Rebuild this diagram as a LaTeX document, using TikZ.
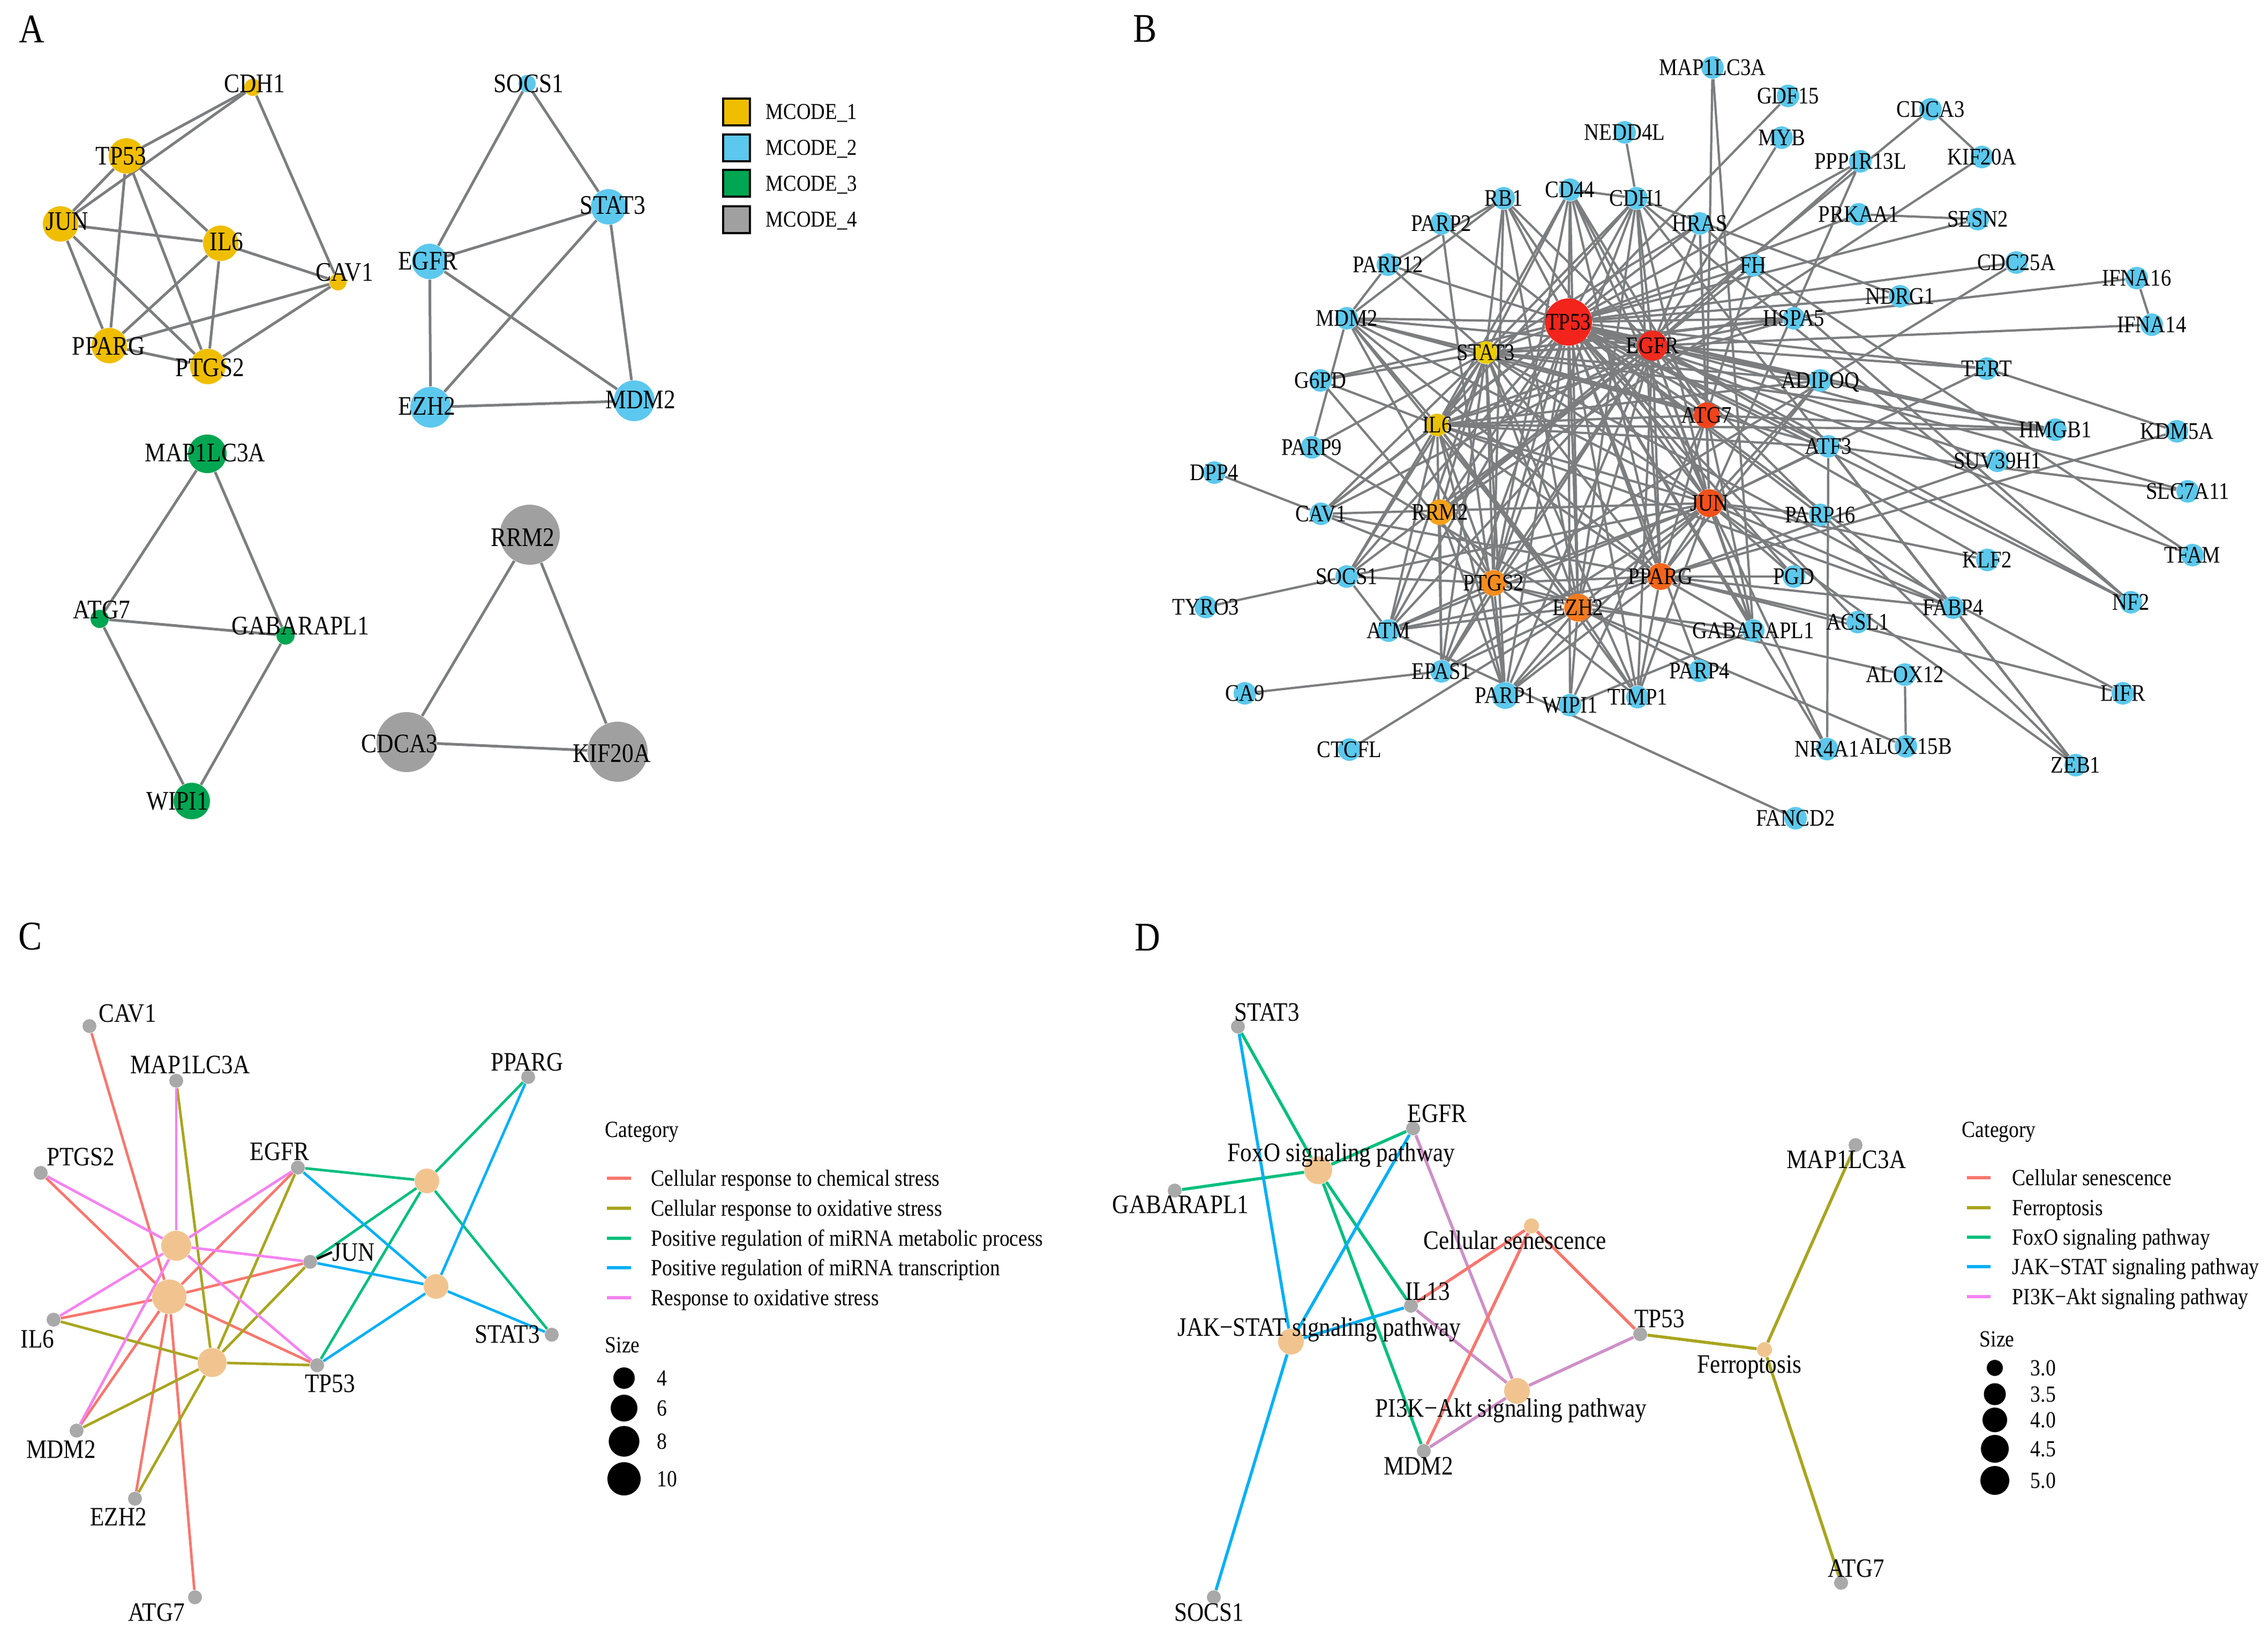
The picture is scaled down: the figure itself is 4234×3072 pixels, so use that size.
\documentclass[tikz,border=0pt]{standalone}
\usepackage{fontspec}
\setmainfont[FakeStretch=0.87]{Liberation Serif}
\pgfdeclarelayer{paper}
\pgfdeclarelayer{edges}
\pgfsetlayers{paper,edges,main}
\definecolor{mcA}{HTML}{F0BE00}
\definecolor{mcB}{HTML}{5CC8EE}
\definecolor{mcC}{HTML}{00A651}
\definecolor{mcD}{HTML}{A0A0A0}
\definecolor{egray}{HTML}{7C7D7F}
\definecolor{bblue}{HTML}{5BC8EC}
\definecolor{ngray}{HTML}{A9A9A9}
\definecolor{peach}{HTML}{F1C48F}
\definecolor{csal}{HTML}{F8766D}
\definecolor{colive}{HTML}{A8A51E}
\definecolor{cteal}{HTML}{00BF7D}
\definecolor{ccyan}{HTML}{00B0F6}
\definecolor{cpink}{HTML}{F582F0}
\definecolor{dmauve}{HTML}{CF8FC8}
\definecolor{hTP}{HTML}{F3241C}
\definecolor{hEG}{HTML}{EF2B1F}
\definecolor{hST}{HTML}{ECCB00}
\definecolor{hIL}{HTML}{E9C100}
\definecolor{hAT}{HTML}{F1431C}
\definecolor{hJU}{HTML}{F2501A}
\definecolor{hRR}{HTML}{F5A11B}
\definecolor{hPT}{HTML}{F58C1E}
\definecolor{hPP}{HTML}{F2661B}
\definecolor{hEZ}{HTML}{F47A1F}
\begin{document}
\begin{tikzpicture}[x=0.25pt,y=-0.25pt,
  lbl/.style={inner sep=0pt, text depth=0pt},
  alab/.style={lbl, font=\fontsize{12.5}{14}\selectfont, text height=8.25pt},
  aleg/.style={lbl, anchor=west, font=\fontsize{10.6}{12}\selectfont, text height=7pt},
  blab/.style={lbl, font=\fontsize{11.1}{13}\selectfont, text height=7.3pt},
  cdlab/.style={lbl, font=\fontsize{12.4}{14}\selectfont, text height=8.2pt},
  cdleg/.style={lbl, anchor=west, font=\fontsize{10.8}{12}\selectfont, text height=7.1pt},
  plet/.style={lbl, font=\fontsize{19}{22}\selectfont, text height=12.5pt},
  dot/.style={circle, inner sep=0pt, draw=none},
  aedge/.style={draw=egray, line width=1.25pt},
  bedge/.style={draw=egray, line width=1.05pt},
  cedge/.style={line width=1.2pt},
  dedge/.style={line width=1.4pt},
  legline/.style={line width=1.3pt}
]
\begin{pgfonlayer}{paper}
\fill[white] (0,0) rectangle (4234,3072);
\end{pgfonlayer}
\useasboundingbox (0,0) rectangle (4234,3072);

% ---------------- panel letters
\node[plet] (pA) at (59,55) {A};
\node[plet] (pB) at (2138,54) {B};
\node[plet] (pC) at (57,1747) {C};
\node[plet] (pD) at (2142,1749) {D};

% ---------------- PANEL A
\node[dot, fill=mcA, minimum size=8pt] (A-CDH1) at (472,163) {};
\node[dot, fill=mcA, minimum size=16.5pt] (A-TP53) at (236,291) {};
\node[dot, fill=mcA, minimum size=16.5pt] (A-JUN) at (113,418) {};
\node[dot, fill=mcA, minimum size=16.5pt] (A-IL6) at (412,454) {};
\node[dot, fill=mcA, minimum size=8pt] (A-CAV1) at (631,526) {};
\node[dot, fill=mcA, minimum size=16.5pt] (A-PPARG) at (204,645) {};
\node[dot, fill=mcA, minimum size=16.5pt] (A-PTGS2) at (388,684) {};
\node[dot, fill=mcB, minimum size=8pt] (A-SOCS1) at (984,156) {};
\node[dot, fill=mcB, minimum size=16.5pt] (A-STAT3) at (1136,386) {};
\node[dot, fill=mcB, minimum size=16.5pt] (A-EGFR) at (802,488) {};
\node[dot, fill=mcB, minimum size=19pt] (A-EZH2) at (804,760) {};
\node[dot, fill=mcB, minimum size=19pt] (A-MDM2) at (1184,748) {};
\node[dot, fill=mcC, minimum size=18pt] (A-MAP1LC3A) at (387,847) {};
\node[dot, fill=mcC, minimum size=8.5pt] (A-ATG7) at (186,1155) {};
\node[dot, fill=mcC, minimum size=8.5pt] (A-GABARAPL1) at (533,1186) {};
\node[dot, fill=mcC, minimum size=17pt] (A-WIPI1) at (358,1495) {};
\node[dot, fill=mcD, minimum size=28pt] (A-RRM2) at (989,998) {};
\node[dot, fill=mcD, minimum size=28pt] (A-CDCA3) at (759,1385) {};
\node[dot, fill=mcD, minimum size=28pt] (A-KIF20A) at (1153,1403) {};
\begin{pgfonlayer}{edges}
\foreach \ea/\eb in {CDH1/TP53, CDH1/JUN, CDH1/CAV1, TP53/JUN, TP53/PPARG, TP53/PTGS2, TP53/IL6,
  JUN/IL6, JUN/PPARG, JUN/PTGS2, IL6/CAV1, IL6/PPARG, IL6/PTGS2, CAV1/PPARG, CAV1/PTGS2, PPARG/PTGS2,
  SOCS1/EGFR, SOCS1/STAT3, STAT3/EGFR, STAT3/EZH2, STAT3/MDM2, EGFR/EZH2, EGFR/MDM2, EZH2/MDM2,
  MAP1LC3A/ATG7, MAP1LC3A/GABARAPL1, ATG7/GABARAPL1, ATG7/WIPI1, GABARAPL1/WIPI1,
  RRM2/CDCA3, RRM2/KIF20A, CDCA3/KIF20A}
  \draw[aedge] (A-\ea) -- (A-\eb);
\end{pgfonlayer}
\node[alab] (A-CDH1-l) at (475,156) {CDH1};
\node[alab] (A-TP53-l) at (226,291) {TP53};
\node[alab] (A-JUN-l) at (125,413) {JUN};
\node[alab] (A-IL6-l) at (423,451) {IL6};
\node[alab] (A-CAV1-l) at (643,508) {CAV1};
\node[alab] (A-PPARG-l) at (203,646) {PPARG};
\node[alab] (A-PTGS2-l) at (392,686) {PTGS2};
\node[alab] (A-SOCS1-l) at (987,156) {SOCS1};
\node[alab] (A-STAT3-l) at (1144,383) {STAT3};
\node[alab] (A-EGFR-l) at (799,487) {EGFR};
\node[alab] (A-EZH2-l) at (797,758) {EZH2};
\node[alab] (A-MDM2-l) at (1196,746) {MDM2};
\node[alab] (A-MAP1LC3A-l) at (383,845) {MAP1LC3A};
\node[alab] (A-ATG7-l) at (190,1138) {ATG7};
\node[alab] (A-GABARAPL1-l) at (561,1168) {GABARAPL1};
\node[alab] (A-WIPI1-l) at (331,1495) {WIPI1};
\node[alab] (A-RRM2-l) at (976,1003) {RRM2};
\node[alab] (A-CDCA3-l) at (746,1388) {CDCA3};
\node[alab] (A-KIF20A-l) at (1142,1406) {KIF20A};
\foreach \i/\cc/\y in {1/mcA/209, 2/mcB/276, 3/mcC/342, 4/mcD/410} {
  \node[rectangle, draw=black, line width=0.9pt, fill=\cc, minimum size=12.5pt, inner sep=0pt] (A-leg\i) at (1375,\y) {};
  \node[aleg] (A-legt\i) at (1429,\y) {MCODE\_\i};
}

% ---------------- PANEL B
\foreach \n/\x/\y in {MAP1LC3A/3197/126, NEDD4L/3033/247, GDF15/3338/179, MYB/3326/257, CDCA3/3604/204,
  PPP1R13L/3473/301, KIF20A/3700/293, CD44/2931/354, CDH1/3055/370, RB1/2807/370, PARP2/2691/417,
  HRAS/3173/417, PRKAA1/3470/400, SESN2/3692/409, PARP12/2591/494, FH/3273/495, CDC25A/3764/490,
  IFNA16/3989/519, NDRG1/3547/553, MDM2/2514/594, HSPA5/3349/594, IFNA14/4017/606, TERT/3709/688,
  G6PD/2465/710, ADIPOQ/3398/710, HMGB1/3837/802, KDM5A/4064/805, PARP9/2449/835, ATF3/3413/833,
  SUV39H1/3729/860, DPP4/2267/882, SLC7A11/4084/917, CAV1/2466/959, PARP16/3398/961, TFAM/4093/1036,
  KLF2/3710/1045, SOCS1/2514/1076, PGD/3349/1076, NF2/3978/1124, TYRO3/2251/1133, FABP4/3646/1134,
  ACSL1/3468/1161, ATM/2592/1177, GABARAPL1/3273/1177, EPAS1/2691/1253, PARP4/3173/1252,
  ALOX12/3556/1259, CA9/2324/1294, LIFR/3963/1294, TIMP1/3057/1301, WIPI1/2931/1316,
  ALOX15B/3558/1393, NR4A1/3411/1398, CTCFL/2519/1399, ZEB1/3875/1428, FANCD2/3352/1527}
  \node[dot, fill=bblue, minimum size=10.5pt] (B-\n) at (\x,\y) {};
\node[dot, fill=bblue, minimum size=12.5pt] (B-PARP1) at (2810,1298) {};
\node[dot, fill=hTP, minimum size=22pt] (B-TP53) at (2928,601) {};
\node[dot, fill=hEG, minimum size=14pt] (B-EGFR) at (3085,645) {};
\node[dot, fill=hST, minimum size=10.5pt] (B-STAT3) at (2774,658) {};
\node[dot, fill=hIL, minimum size=10.5pt] (B-IL6) at (2683,793) {};
\node[dot, fill=hAT, minimum size=12pt] (B-ATG7) at (3186,775) {};
\node[dot, fill=hJU, minimum size=13pt] (B-JUN) at (3191,939) {};
\node[dot, fill=hRR, minimum size=12pt] (B-RRM2) at (2688,956) {};
\node[dot, fill=hPT, minimum size=12pt] (B-PTGS2) at (2788,1088) {};
\node[dot, fill=hPP, minimum size=12.5pt] (B-PPARG) at (3100,1076) {};
\node[dot, fill=hEZ, minimum size=13pt] (B-EZH2) at (2946,1134) {};
\begin{pgfonlayer}{edges}
\foreach \ea/\eb in {TP53/EGFR, TP53/STAT3, TP53/IL6, TP53/ATG7, TP53/JUN, TP53/PPARG, TP53/EZH2, TP53/PTGS2, TP53/RRM2,
  EGFR/STAT3, EGFR/IL6, EGFR/ATG7, EGFR/JUN, EGFR/PPARG, EGFR/EZH2, EGFR/PTGS2, EGFR/RRM2,
  STAT3/IL6, STAT3/ATG7, STAT3/JUN, STAT3/PPARG, STAT3/EZH2, STAT3/PTGS2, STAT3/RRM2,
  IL6/ATG7, IL6/JUN, IL6/PPARG, IL6/EZH2, IL6/PTGS2, ATG7/JUN, ATG7/PPARG,
  JUN/PPARG, JUN/EZH2, JUN/PTGS2, PPARG/EZH2, PPARG/PTGS2, EZH2/PTGS2,
  TP53/MDM2, TP53/CAV1, TP53/SOCS1, TP53/ATM, TP53/EPAS1, TP53/PARP1, TP53/WIPI1, TP53/TIMP1, TP53/PARP4,
  TP53/GABARAPL1, TP53/PGD, TP53/PARP16, TP53/ATF3, TP53/ADIPOQ, TP53/HSPA5, TP53/FH, TP53/HRAS, TP53/CDH1,
  TP53/CD44, TP53/RB1, TP53/PARP2, TP53/PARP12, TP53/G6PD, TP53/NDRG1, TP53/CDC25A, TP53/SESN2, TP53/PRKAA1,
  TP53/PPP1R13L, TP53/GDF15, TP53/TERT, TP53/HMGB1, TP53/SLC7A11, TP53/TFAM, TP53/NF2, TP53/SUV39H1,
  TP53/NR4A1, TP53/ACSL1, TP53/FABP4, TP53/KLF2,
  EGFR/MDM2, EGFR/CAV1, EGFR/SOCS1, EGFR/ATM, EGFR/EPAS1, EGFR/PARP1, EGFR/TIMP1, EGFR/CD44, EGFR/CDH1,
  EGFR/HRAS, EGFR/HSPA5, EGFR/ADIPOQ, EGFR/ATF3, EGFR/MYB, EGFR/PPP1R13L, EGFR/TERT, EGFR/NF2, EGFR/ZEB1,
  EGFR/RB1, EGFR/GABARAPL1, EGFR/FH, EGFR/HMGB1,
  STAT3/MDM2, STAT3/SOCS1, STAT3/CAV1, STAT3/CD44, STAT3/CDH1, STAT3/HRAS, STAT3/TIMP1, STAT3/EPAS1,
  STAT3/ATF3, STAT3/IFNA16, STAT3/IFNA14, STAT3/LIFR, STAT3/HMGB1, STAT3/G6PD, STAT3/RB1, STAT3/PARP9,
  STAT3/ATM, STAT3/PARP1, STAT3/ADIPOQ, STAT3/HSPA5, STAT3/PARP12,
  IL6/MDM2, IL6/CAV1, IL6/SOCS1, IL6/EPAS1, IL6/TIMP1, IL6/HMGB1, IL6/ATF3, IL6/ADIPOQ, IL6/PARP1,
  IL6/CD44, IL6/CDH1, IL6/HSPA5, IL6/ATM, IL6/FABP4, IL6/G6PD,
  ATG7/MAP1LC3A, ATG7/GABARAPL1, ATG7/WIPI1, ATG7/HMGB1, ATG7/MDM2, ATG7/HRAS, ATG7/FH, ATG7/CD44,
  JUN/ATF3, JUN/PARP16, JUN/KLF2, JUN/NR4A1, JUN/CAV1, JUN/SOCS1, JUN/EPAS1, JUN/TIMP1, JUN/PARP1,
  JUN/HRAS, JUN/CDH1, JUN/CD44, JUN/MDM2, JUN/ATM, JUN/FABP4, JUN/PGD, JUN/GABARAPL1, JUN/RB1,
  JUN/ZEB1, JUN/TERT, JUN/ADIPOQ, JUN/PPP1R13L,
  PPARG/FABP4, PPARG/ADIPOQ, PPARG/ACSL1, PPARG/KDM5A, PPARG/SUV39H1, PPARG/CAV1, PPARG/PGD,
  PPARG/GABARAPL1, PPARG/LIFR, PPARG/PARP1, PPARG/TIMP1, PPARG/CD44, PPARG/CDH1, PPARG/MDM2, PPARG/ATM,
  EZH2/CDH1, EZH2/CTCFL, EZH2/PARP9, EZH2/ALOX15B, EZH2/TIMP1, EZH2/PARP1, EZH2/WIPI1, EZH2/EPAS1,
  EZH2/ATM, EZH2/CD44, EZH2/MDM2, EZH2/PARP4, EZH2/RB1, EZH2/GABARAPL1,
  PTGS2/ALOX12, PTGS2/CAV1, PTGS2/CDC25A, PTGS2/SOCS1, PTGS2/PARP1, PTGS2/EPAS1, PTGS2/ATM, PTGS2/TIMP1,
  PTGS2/CD44, PTGS2/CDH1, PTGS2/G6PD, PTGS2/MDM2, PTGS2/RB1,
  RRM2/CDCA3, RRM2/KIF20A, RRM2/EPAS1, RRM2/PARP1,
  NEDD4L/CDH1, CD44/CDH1, MDM2/RB1, PARP12/RB1, PARP12/MDM2, PARP2/PARP1, MDM2/PARP9, DPP4/CAV1,
  TYRO3/SOCS1, SOCS1/ATM, CA9/EPAS1, ATM/FANCD2, WIPI1/GABARAPL1, GABARAPL1/MAP1LC3A, ALOX12/ALOX15B,
  ATF3/NR4A1, ZEB1/CDH1, ZEB1/FABP4, ATF3/FABP4, ATF3/SLC7A11, KDM5A/TERT, IFNA16/IFNA14, PRKAA1/SESN2,
  KIF20A/CDCA3, FH/TFAM, NDRG1/CDH1, HRAS/NF2, CDH1/NF2}
  \draw[bedge] (B-\ea) -- (B-\eb);
\end{pgfonlayer}
\foreach \n in {MAP1LC3A, NEDD4L, GDF15, MYB, CDCA3, PPP1R13L, KIF20A, CD44, CDH1, RB1, PARP2, HRAS,
  PRKAA1, SESN2, PARP12, FH, CDC25A, IFNA16, NDRG1, MDM2, HSPA5, IFNA14, TERT, G6PD, ADIPOQ, HMGB1,
  KDM5A, PARP9, ATF3, SUV39H1, DPP4, SLC7A11, CAV1, PARP16, TFAM, KLF2, SOCS1, PGD, NF2, TYRO3, FABP4,
  ACSL1, ATM, GABARAPL1, EPAS1, PARP4, ALOX12, CA9, LIFR, TIMP1, WIPI1, ALOX15B, NR4A1, CTCFL, ZEB1,
  FANCD2, PARP1, TP53, EGFR, STAT3, IL6, ATG7, JUN, RRM2, PTGS2, PPARG, EZH2}
  \node[blab] (B-\n-l) at (B-\n) {\n};

% ---------------- PANEL C
\node[dot, fill=ngray, minimum size=6.5pt] (C-CAV1) at (167,1915) {};
\node[dot, fill=ngray, minimum size=6.5pt] (C-MAP1LC3A) at (329,2017) {};
\node[dot, fill=ngray, minimum size=6.5pt] (C-PPARG) at (986,2010) {};
\node[dot, fill=ngray, minimum size=6.5pt] (C-PTGS2) at (76,2189) {};
\node[dot, fill=ngray, minimum size=6.5pt] (C-EGFR) at (556,2179) {};
\node[dot, fill=ngray, minimum size=6.5pt] (C-JUN) at (579,2355) {};
\node[dot, fill=ngray, minimum size=6.5pt] (C-IL6) at (100,2463) {};
\node[dot, fill=ngray, minimum size=6.5pt] (C-STAT3) at (1030,2491) {};
\node[dot, fill=ngray, minimum size=6.5pt] (C-TP53) at (592,2548) {};
\node[dot, fill=ngray, minimum size=6.5pt] (C-MDM2) at (143,2670) {};
\node[dot, fill=ngray, minimum size=6.5pt] (C-EZH2) at (252,2797) {};
\node[dot, fill=ngray, minimum size=6.5pt] (C-ATG7) at (364,2981) {};
\node[dot, fill=peach, minimum size=11.5pt] (C-T1) at (797,2204) {};
\node[dot, fill=peach, minimum size=14pt] (C-T2) at (329,2325) {};
\node[dot, fill=peach, minimum size=16pt] (C-T3) at (316,2420) {};
\node[dot, fill=peach, minimum size=11.5pt] (C-T4) at (814,2401) {};
\node[dot, fill=peach, minimum size=13.5pt] (C-T5) at (396,2543) {};
\begin{pgfonlayer}{edges}
\foreach \ea in {CAV1, PTGS2, EGFR, JUN, IL6, MDM2, EZH2, ATG7, TP53}
  \draw[cedge, csal] (C-\ea) -- (C-T3);
\foreach \ea in {MAP1LC3A, EGFR, JUN, IL6, MDM2, EZH2, TP53}
  \draw[cedge, colive] (C-\ea) -- (C-T5);
\foreach \ea in {MAP1LC3A, PTGS2, EGFR, JUN, IL6, MDM2, TP53}
  \draw[cedge, cpink] (C-\ea) -- (C-T2);
\foreach \ea in {EGFR, PPARG, JUN, TP53, STAT3}
  \draw[cedge, cteal] (C-\ea) -- (C-T1);
\foreach \ea in {EGFR, PPARG, JUN, TP53, STAT3}
  \draw[cedge, ccyan] (C-\ea) -- (C-T4);
\end{pgfonlayer}
\node[cdlab] (C-CAV1-l) at (238,1891) {CAV1};
\node[cdlab] (C-MAP1LC3A-l) at (355,1987) {MAP1LC3A};
\node[cdlab] (C-PPARG-l) at (984,1982) {PPARG};
\node[cdlab] (C-PTGS2-l) at (151,2159) {PTGS2};
\node[cdlab] (C-EGFR-l) at (522,2149) {EGFR};
\node[cdlab] (C-JUN-l) at (660,2337) {JUN};
\node[cdlab] (C-IL6-l) at (70,2499) {IL6};
\node[cdlab] (C-STAT3-l) at (947,2490) {STAT3};
\node[cdlab] (C-TP53-l) at (616,2582) {TP53};
\node[cdlab] (C-MDM2-l) at (114,2705) {MDM2};
\node[cdlab] (C-EZH2-l) at (221,2831) {EZH2};
\node[cdlab] (C-ATG7-l) at (292,3009) {ATG7};
\draw[black, line width=1.1pt] (C-JUN) -- (C-JUN-l.west);
% legend C
\node[cdleg] (C-cat) at (1129,2108) {Category};
\foreach \i/\cc/\y/\txt in {1/csal/2199/Cellular response to chemical stress,
  2/colive/2255/Cellular response to oxidative stress,
  3/cteal/2311/Positive regulation of miRNA metabolic process,
  4/ccyan/2366/Positive regulation of miRNA transcription,
  5/cpink/2422/Response to oxidative stress} {
  \coordinate (C-la\i) at (1133,\y);
  \coordinate (C-lb\i) at (1178,\y);
  \draw[legline, \cc] (C-la\i) -- (C-lb\i);
  \node[cdleg] (C-lt\i) at (1215,\y) {\txt};
}
\node[cdleg] (C-size) at (1129,2510) {Size};
\foreach \i/\y/\sz/\txt in {1/2572/10pt/4, 2/2628/12.5pt/6, 3/2690/14.3pt/8, 4/2760/15.5pt/10} {
  \node[dot, fill=black, minimum size=\sz] (C-s\i) at (1165,\y) {};
  \node[cdleg] (C-st\i) at (1226,\y) {\txt};
}

% ---------------- PANEL D
\node[dot, fill=ngray, minimum size=6.5pt] (D-STAT3) at (2311,1916) {};
\node[dot, fill=ngray, minimum size=6.5pt] (D-EGFR) at (2638,2106) {};
\node[dot, fill=ngray, minimum size=6.5pt] (D-GABARAPL1) at (2193,2222) {};
\node[dot, fill=ngray, minimum size=6.5pt] (D-MAP1LC3A) at (3464,2137) {};
\node[dot, fill=ngray, minimum size=6.5pt] (D-IL13) at (2634,2437) {};
\node[dot, fill=ngray, minimum size=6.5pt] (D-TP53) at (3062,2490) {};
\node[dot, fill=ngray, minimum size=6.5pt] (D-MDM2) at (2658,2708) {};
\node[dot, fill=ngray, minimum size=6.5pt] (D-ATG7) at (3437,2954) {};
\node[dot, fill=ngray, minimum size=6.5pt] (D-SOCS1) at (2266,2981) {};
\node[dot, fill=peach, minimum size=13pt] (D-FoxO) at (2461,2184) {};
\node[dot, fill=peach, minimum size=7pt] (D-CS) at (2859,2288) {};
\node[dot, fill=peach, minimum size=12pt] (D-JAK) at (2410,2504) {};
\node[dot, fill=peach, minimum size=7pt] (D-Fer) at (3294,2519) {};
\node[dot, fill=peach, minimum size=12pt] (D-PI3K) at (2832,2596) {};
\begin{pgfonlayer}{edges}
\foreach \ea in {STAT3, EGFR, GABARAPL1, IL13, MDM2}
  \draw[dedge, cteal] (D-\ea) -- (D-FoxO);
\foreach \ea in {STAT3, EGFR, IL13, SOCS1}
  \draw[dedge, ccyan] (D-\ea) -- (D-JAK);
\foreach \ea in {EGFR, IL13, MDM2, TP53}
  \draw[dedge, dmauve] (D-\ea) -- (D-PI3K);
\foreach \ea in {IL13, MDM2, TP53}
  \draw[dedge, csal] (D-\ea) -- (D-CS);
\foreach \ea in {TP53, MAP1LC3A, ATG7}
  \draw[dedge, colive] (D-\ea) -- (D-Fer);
\end{pgfonlayer}
\node[cdlab] (D-STAT3-l) at (2365,1889) {STAT3};
\node[cdlab] (D-EGFR-l) at (2683,2078) {EGFR};
\node[cdlab] (D-GABARAPL1-l) at (2204,2248) {GABARAPL1};
\node[cdlab] (D-MAP1LC3A-l) at (3447,2164) {MAP1LC3A};
\node[cdlab] (D-IL13-l) at (2665,2410) {IL13};
\node[cdlab] (D-TP53-l) at (3098,2461) {TP53};
\node[cdlab] (D-MDM2-l) at (2648,2736) {MDM2};
\node[cdlab] (D-ATG7-l) at (3465,2927) {ATG7};
\node[cdlab] (D-SOCS1-l) at (2257,3009) {SOCS1};
\node[cdlab] (D-FoxO-l) at (2504,2151) {FoxO signaling pathway};
\node[cdlab] (D-CS-l) at (2828,2315) {Cellular senescence};
\node[cdlab] (D-JAK-l) at (2463,2477) {JAK−STAT signaling pathway};
\node[cdlab] (D-Fer-l) at (3266,2546) {Ferroptosis};
\node[cdlab] (D-PI3K-l) at (2821,2628) {PI3K−Akt signaling pathway};
% legend D
\node[cdleg] (D-cat) at (3662,2108) {Category};
\foreach \i/\cc/\y/\txt in {1/csal/2198/Cellular senescence,
  2/colive/2254/Ferroptosis,
  3/cteal/2309/FoxO signaling pathway,
  4/ccyan/2364/JAK−STAT signaling pathway,
  5/cpink/2420/PI3K−Akt signaling pathway} {
  \coordinate (D-la\i) at (3672,\y);
  \coordinate (D-lb\i) at (3716,\y);
  \draw[legline, \cc] (D-la\i) -- (D-lb\i);
  \node[cdleg] (D-lt\i) at (3756,\y) {\txt};
}
\node[cdleg] (D-size) at (3695,2499) {Size};
\foreach \i/\y/\sz/\txt in {1/2553/7.5pt/3.0, 2/2602/10.25pt/3.5, 3/2650/11.5pt/4.0, 4/2704/13pt/4.5, 5/2763/13.5pt/5.0} {
  \node[dot, fill=black, minimum size=\sz] (D-s\i) at (3724,\y) {};
  \node[cdleg] (D-st\i) at (3790,\y) {\txt};
}
\end{tikzpicture}
\end{document}
